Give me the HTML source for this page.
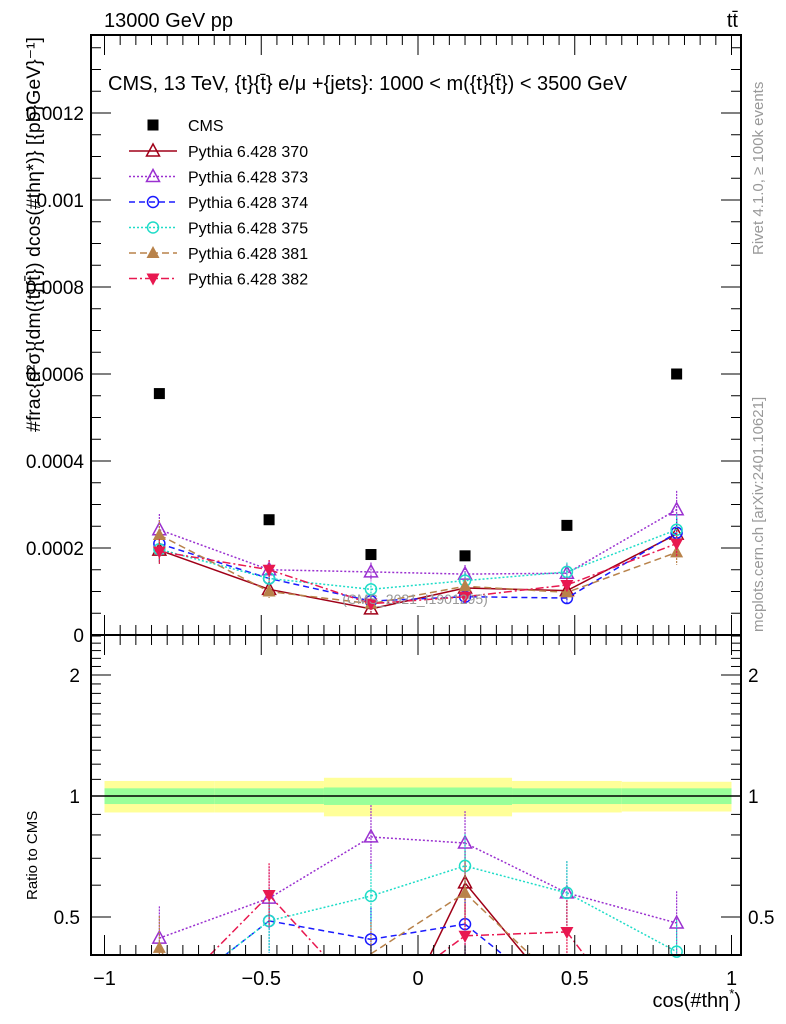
<!DOCTYPE html>
<html><head><meta charset="utf-8"><style>
html,body{margin:0;padding:0;background:#fff;overflow:hidden;width:786px;height:1024px}
svg{display:block}
svg text{font-family:"Liberation Sans",sans-serif}
</style></head><body>
<svg id="c" width="786" height="1024" xmlns="http://www.w3.org/2000/svg">
<g id="bands"></g>
<g id="main"></g>
<g id="ratio"></g>
<g id="axes"></g>
<text x="104" y="27" font-size="20">13000 GeV pp</text>
<text x="738" y="27" font-size="20" text-anchor="end">tt̄</text>
<text x="108" y="90" font-size="20">CMS, 13 TeV, {t}{t̄} e/μ +{jets}: 1000 &lt; m({t}{t̄}) &lt; 3500 GeV</text>
<text x="415" y="604" font-size="14" fill="#999" text-anchor="middle">(CMS_2021_I1901295)</text>
<text transform="translate(763,255) rotate(-90)" font-size="15" fill="#999">Rivet 4.1.0, ≥ 100k events</text>
<text transform="translate(763,632) rotate(-90)" font-size="15" fill="#999">mcplots.cern.ch [arXiv:2401.10621]</text>
<text transform="translate(40,432) rotate(-90)" font-size="19" textLength="395" lengthAdjust="spacingAndGlyphs">#frac{d²σ}{dm({t}{t̄}) dcos(#thη*)} [{pb}GeV}⁻¹]</text>
<text transform="translate(37,900) rotate(-90)" font-size="15">Ratio to CMS</text>
<text x="741" y="1007" font-size="20" text-anchor="end">cos(#thη<tspan dy="-9" font-size="13">*</tspan><tspan dy="9">)</tspan></text>
<g id="legend"></g>
</svg>
<script>
const xCenters=[-0.825,-0.475,-0.15,0.15,0.475,0.825];
const binEdges=[-1,-0.65,-0.3,0,0.3,0.65,1];
const cmsVals=[0.000555,0.000265,0.000185,0.000182,0.000252,0.0006];
const v370=[0.000195,0.000105,0.00006,0.000108,0.000102,0.000232];
const v373=[0.000242,0.00015,0.000145,0.00014,0.000142,0.000288];
const v374=[0.00021,0.00013,0.000078,0.000088,0.000085,0.000235];
const v375=[0.000197,0.00013,0.000105,0.000125,0.000145,0.000242];
const v381=[0.00023,0.0001,0.000072,0.000112,0.000098,0.00019];
const v382=[0.000192,0.00015,0.000072,0.000088,0.000115,0.00021];
const r370=[0.25,0.25,0.2,0.608,0.3,0.3];
const r373=[0.443,0.557,0.791,0.764,0.574,0.483];
const r374=[0.3,0.489,0.44,0.48,0.3,0.3];
const r375=[0.3,0.489,0.564,0.67,0.574,0.41];
const r381=[0.419,0.15,0.405,0.574,0.33,0.3];
const r382=[0.3,0.567,0.3,0.449,0.459,0.2];
const bandInner=[0.045,0.045,0.05,0.05,0.045,0.045];
const bandOuter=[0.09,0.09,0.11,0.11,0.09,0.085];
const mainTicks=[0,0.0002,0.0004,0.0006,0.0008,0.001,0.0012];
const mainTickLabels=["0","0.0002","0.0004","0.0006","0.0008","0.001","0.0012"];
const xTicks=[-1,-0.5,0,0.5,1];
const xTickLabels=["−1","−0.5","0","0.5","1"];
const ratioTicks=[0.5,1,2];
const ratioTickLabels=["0.5","1","2"];
const seriesNames=["Pythia 6.428 370","Pythia 6.428 373","Pythia 6.428 374","Pythia 6.428 375","Pythia 6.428 381","Pythia 6.428 382"];

const NS="http://www.w3.org/2000/svg";
const X=v=>418+313.5*v;
const Y=v=>635-v/0.0002*87;
const R=r=>796-402*Math.log10(r);
const YMAX=955;
function mk(t,a,p){const e=document.createElementNS(NS,t);for(const k in a)e.setAttribute(k,a[k]);p.appendChild(e);return e;}
function clipPath(pts){
 let d="";
 for(let i=0;i<pts.length-1;i++){
  let [x1,y1]=pts[i],[x2,y2]=pts[i+1];
  if(y1>YMAX&&y2>YMAX)continue;
  if(y1>YMAX){x1=x1+(x2-x1)*(YMAX-y1)/(y2-y1);y1=YMAX;}
  if(y2>YMAX){x2=x1+(x2-x1)*(YMAX-y1)/(y2-y1);y2=YMAX;}
  d+=`M${x1},${y1}L${x2},${y2}`;
 }
 return d||"M0,0";
}
const styles=[
 {c:"#a00018",d:"",m:"tri"},{c:"#9a30d0",d:"2,2",m:"tri"},{c:"#1a1aff",d:"6,4",m:"circ"},
 {c:"#20dcc8",d:"2,2",m:"circ"},{c:"#b8824a",d:"7,4",m:"ftri"},{c:"#e81850",d:"8,3,2,3",m:"itri"}];
const mains=[v370,v373,v374,v375,v381,v382];
const ratios=[r370,r373,r374,r375,r381,r382];
function marker(g,m,x,y,c){
 let e;
 if(m=="tri") e=mk("polygon",{points:`${x},${y-7} ${x-6.5},${y+5} ${x+6.5},${y+5}`,fill:"none",stroke:c,"stroke-width":1.5},g);
 else if(m=="ftri") e=mk("polygon",{points:`${x},${y-7} ${x-6.5},${y+5} ${x+6.5},${y+5}`,fill:c},g);
 else if(m=="itri") e=mk("polygon",{points:`${x},${y+7} ${x-6.5},${y-5} ${x+6.5},${y-5}`,fill:c},g);
 else if(m=="circ") e=mk("circle",{cx:x,cy:y,r:5.5,fill:"none",stroke:c,"stroke-width":1.5},g);
 else e=mk("rect",{x:x-5.5,y:y-5.5,width:11,height:11,fill:c},g);
 
 
}
const gb=document.getElementById("bands");
for(let i=0;i<6;i++){
 const x0=X(binEdges[i]),w=X(binEdges[i+1])-x0;
 let e=mk("rect",{x:x0,y:R(1+bandOuter[i]),width:w,height:R(1-bandOuter[i])-R(1+bandOuter[i]),fill:"#ffff99"},gb);
 
 
 e=mk("rect",{x:x0,y:R(1+bandInner[i]),width:w,height:R(1-bandInner[i])-R(1+bandInner[i]),fill:"#99ff99"},gb);
 
 
}
let ln=mk("line",{x1:91,x2:741,y1:R(1),y2:R(1),stroke:"#000","stroke-width":1.5},gb);


const gm=document.getElementById("main"),gr=document.getElementById("ratio");
for(let s=0;s<6;s++){
 const st=styles[s];
 let g=mk("g",{},gm);
 
 
 let p=mk("polyline",{points:xCenters.map((x,i)=>X(x)+","+Y(mains[s][i])).join(" "),fill:"none",stroke:st.c,"stroke-width":1.5,"stroke-dasharray":st.d},g);
 
 
 xCenters.forEach((x,i)=>{
  const v=mains[s][i];
  let eb=mk("line",{x1:X(x),x2:X(x),y1:Y(v*1.15),y2:Y(v*0.85),stroke:st.c,"stroke-width":1.2,"stroke-dasharray":"2,1"},g);
  
  
  marker(g,st.m,X(x),Y(v),st.c);
 });
 let g2=mk("g",{},gr);
 
 
 p=mk("path",{d:clipPath(xCenters.map((x,i)=>[X(x),R(ratios[s][i])])),fill:"none",stroke:st.c,"stroke-width":1.5,"stroke-dasharray":st.d},g2);
 
 
 xCenters.forEach((x,i)=>{
  const r=ratios[s][i];
  const yt=R(r*1.2),yb=Math.min(R(r/1.2),YMAX);
  if(yt>=YMAX)return;
  let eb=mk("line",{x1:X(x),x2:X(x),y1:yt,y2:yb,stroke:st.c,"stroke-width":1.2,"stroke-dasharray":"2,1"},g2);
  
  
  if(R(r)<YMAX-3) marker(g2,st.m,X(x),R(r),st.c);
 });
}
xCenters.forEach((x,i)=>marker(gm,"sq",X(x),Y(cmsVals[i]),"#000"));
const ga=document.getElementById("axes");
function L(x1,y1,x2,y2,w,n){const e=mk("line",{x1,y1,x2,y2,stroke:"#000","stroke-width":w||1},ga);}
function T(x,y,s,anc,n,fs){const e=mk("text",{x,y,"font-size":fs||19,"text-anchor":anc},ga);e.textContent=s;}
let f=mk("rect",{x:91,y:35,width:650,height:600,fill:"none",stroke:"#000","stroke-width":2},ga);

f=mk("rect",{x:91,y:635,width:650,height:320,fill:"none",stroke:"#000","stroke-width":2},ga);

for(let k=-20;k<=20;k++){const v=k*0.05,x=X(v),maj=k%10==0;const h=maj?20:10;
 L(x,635,x,635-h);L(x,35,x,35+h);L(x,635,x,635+h);L(x,955,x,955-h);}
xTicks.forEach((v,i)=>T(X(v),985,xTickLabels[i],"middle","x-tick-label",20));
for(let k=0;k<=27;k++){const v=k*0.00005,y=Y(v);if(y<36)break;const maj=k%4==0,h=maj?20:10;
 L(91,y,91+h,y);L(741,y,741-h,y);}
mainTicks.forEach((v,i)=>T(84,Y(v)+7,mainTickLabels[i],"end","y-tick-label"));
for(let d=0.4;d<2.55;d+=0.1){const y=R(d);if(y<636||y>954)continue;
 const maj=Math.abs(d-0.5)<1e-6||Math.abs(d-1)<1e-6||Math.abs(d-2)<1e-6;const h=maj?20:10;L(91,y,91+h,y);L(741,y,741-h,y);}
ratioTicks.forEach((v,i)=>{T(80,R(v)+7,ratioTickLabels[i],"end","ratio-tick-label");T(748,R(v)+7,ratioTickLabels[i],"start","ratio-tick-label-right");});
const gl=document.getElementById("legend");
let it=mk("g",{},gl);
marker(it,"sq",153,125,"#000");
let t=mk("text",{x:188,y:131,"font-size":16},it);t.textContent="CMS";
for(let s=0;s<6;s++){const y=151+s*25.5,st=styles[s];
 it=mk("g",{},gl);
 mk("line",{x1:129,x2:177,y1:y,y2:y,stroke:st.c,"stroke-width":1.5,"stroke-dasharray":st.d},it);
 marker(it,st.m,153,y,st.c);
 t=mk("text",{x:188,y:y+6,"font-size":16},it);t.textContent=seriesNames[s];}
</script>
</body></html>
